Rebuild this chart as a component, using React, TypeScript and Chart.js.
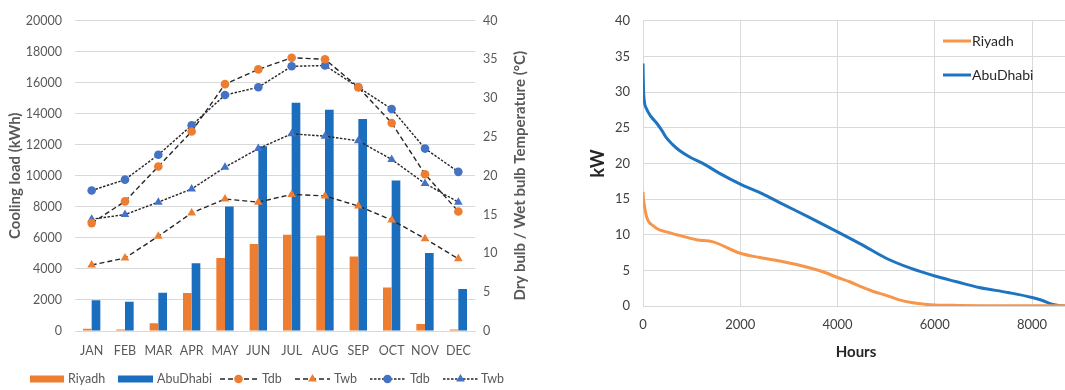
import React, { useEffect, useRef } from "react";
import { Chart, registerables } from "chart.js";
Chart.register(...registerables);

// ---------- Left chart data ----------
const months = ["JAN", "FEB", "MAR", "APR", "MAY", "JUN", "JUL", "AUG", "SEP", "OCT", "NOV", "DEC"];
const riyadhLoad = [150, 100, 500, 2450, 4700, 5600, 6200, 6150, 4800, 2800, 450, 100];
const abuDhabiLoad = [1980, 1880, 2470, 4370, 8020, 11900, 14700, 14250, 13650, 9700, 5030, 2700];
const riyadhTdb = [13.9, 16.7, 21.2, 25.7, 31.8, 33.7, 35.2, 35.0, 31.4, 26.8, 20.2, 15.4];
const riyadhTwb = [8.5, 9.4, 12.2, 15.2, 17.0, 16.6, 17.6, 17.4, 16.1, 14.3, 11.9, 9.3];
const abuDhabiTdb = [18.1, 19.5, 22.7, 26.5, 30.4, 31.4, 34.1, 34.2, 31.4, 28.6, 23.5, 20.5];
const abuDhabiTwb = [14.4, 15.0, 16.6, 18.3, 21.1, 23.5, 25.4, 25.1, 24.5, 22.1, 19.0, 16.6];

// ---------- Right chart data (load duration curves) ----------
const hourTicks = [0, 2000, 4000, 6000, 8000];
const abuHours = [0, 10, 30, 70, 150, 275, 400, 480, 600, 750, 960, 1230, 1575, 2000, 2470, 2810, 3400, 4000, 4500, 5000, 5500, 6000, 6450, 6910, 7500, 8000, 8200, 8430, 8660, 8760];
const abuKw = [34.0, 30.5, 28.6, 27.7, 26.7, 25.7, 24.5, 23.6, 22.7, 21.8, 20.9, 20.0, 18.6, 17.1, 15.7, 14.5, 12.5, 10.4, 8.6, 6.7, 5.3, 4.2, 3.4, 2.6, 1.9, 1.2, 0.8, 0.2, 0.0, 0.0];
const riyHours = [0, 10, 20, 40, 70, 120, 200, 300, 480, 750, 1100, 1440, 2000, 2400, 2810, 3400, 3700, 4000, 4250, 4520, 4750, 5000, 5250, 5550, 5800, 6000, 6500, 7000, 8000, 8760];
const riyKw = [16.0, 15.0, 14.5, 13.6, 12.6, 11.8, 11.3, 10.8, 10.4, 9.9, 9.3, 9.0, 7.4, 6.8, 6.3, 5.4, 4.8, 4.0, 3.4, 2.6, 2.0, 1.5, 0.9, 0.45, 0.25, 0.15, 0.08, 0.05, 0.03, 0.02];

const FONT = "Lato, 'Open Sans', sans-serif";
const ORANGE = "#ED7D31";
const BLUE_BAR = "#1B6EBD";
const BLUE_MK = "#4472C4";
const LINE_ORANGE = "#F7964A";
const LINE_BLUE = "#1F74C2";

function drawMarker(ctx: CanvasRenderingContext2D, style: string, x: number, y: number, color: string) {
  ctx.save();
  ctx.fillStyle = color;
  ctx.beginPath();
  if (style === "circle") {
    ctx.arc(x, y, 4.3, 0, Math.PI * 2);
  } else {
    const r = 5;
    ctx.moveTo(x, y - r);
    ctx.lineTo(x + r * Math.sin((2 * Math.PI) / 3), y - r * Math.cos((2 * Math.PI) / 3));
    ctx.lineTo(x + r * Math.sin((4 * Math.PI) / 3), y - r * Math.cos((4 * Math.PI) / 3));
    ctx.closePath();
  }
  ctx.fill();
  ctx.restore();
}

const leftDecor = {
  id: "leftDecor",
  afterDraw(chart: any) {
    const ctx: CanvasRenderingContext2D = chart.ctx;
    const area = chart.chartArea;
    ctx.save();
    ctx.translate(520, (area.top + area.bottom) / 2);
    ctx.rotate(-Math.PI / 2);
    ctx.font = `bold 15px ${FONT}`;
    ctx.fillStyle = "#595959";
    ctx.textAlign = "center";
    ctx.textBaseline = "middle";
    ctx.fillText("Dry bulb / Wet bulb Temperature (°C)", 0, 0);
    ctx.restore();

    const y = 379;
    ctx.save();
    ctx.font = `12.5px ${FONT}`;
    ctx.textBaseline = "middle";
    ctx.textAlign = "left";
    ctx.fillStyle = ORANGE;
    ctx.fillRect(30, y - 3.5, 34, 7);
    ctx.fillStyle = "#595959";
    ctx.fillText("Riyadh", 68, y);
    ctx.fillStyle = BLUE_BAR;
    ctx.fillRect(118, y - 3.5, 35, 7);
    ctx.fillStyle = "#595959";
    ctx.fillText("AbuDhabi", 157, y);
    const lineItem = (x0: number, x1: number, dash: number[], mk: string, col: string, label: string, tx: number) => {
      ctx.save();
      ctx.strokeStyle = "#262626";
      ctx.lineWidth = 1.4;
      ctx.setLineDash(dash);
      ctx.beginPath();
      ctx.moveTo(x0, y);
      ctx.lineTo(x1, y);
      ctx.stroke();
      ctx.restore();
      drawMarker(ctx, mk, (x0 + x1) / 2, y, col);
      ctx.fillStyle = "#595959";
      ctx.fillText(label, tx, y);
    };
    lineItem(220, 257, [5, 3], "circle", ORANGE, "Tdb", 262);
    lineItem(295, 330, [5, 3], "triangle", ORANGE, "Twb", 334);
    lineItem(370, 405, [2.5, 1.5], "circle", BLUE_MK, "Tdb", 410);
    lineItem(443, 478, [2.5, 1.5], "triangle", BLUE_MK, "Twb", 481);
    ctx.restore();
  },
};

const rightDecor = {
  id: "rightDecor",
  afterDraw(chart: any) {
    const ctx: CanvasRenderingContext2D = chart.ctx;
    ctx.save();
    ctx.font = `14px ${FONT}`;
    ctx.textBaseline = "middle";
    ctx.textAlign = "left";
    const items = [
      { y: 41, c: LINE_ORANGE, t: "Riyadh" },
      { y: 75, c: LINE_BLUE, t: "AbuDhabi" },
    ];
    for (const it of items) {
      ctx.strokeStyle = it.c;
      ctx.lineWidth = 3;
      ctx.beginPath();
      ctx.moveTo(943 - 580, it.y);
      ctx.lineTo(971 - 580, it.y);
      ctx.stroke();
      ctx.fillStyle = "#262626";
      ctx.fillText(it.t, 972 - 580, it.y);
    }
    ctx.restore();
  },
};

const plain = (v: any) => String(v);

export default function App() {
  const leftRef = useRef<HTMLCanvasElement | null>(null);
  const rightRef = useRef<HTMLCanvasElement | null>(null);

  useEffect(() => {
    const lineDs = (label: string, data: number[], color: string, style: string, dash: number[]) => ({
      type: "line" as const,
      label,
      data,
      yAxisID: "y1",
      borderColor: "#262626",
      borderWidth: 1.4,
      borderDash: dash,
      pointStyle: style,
      pointRadius: style === "circle" ? 4.3 : 5,
      pointBackgroundColor: color,
      pointBorderColor: color,
      pointBorderWidth: 0,
      fill: false,
      tension: 0,
      order: 1,
    });

    const left = new Chart(leftRef.current!, {
      type: "bar",
      data: {
        labels: months,
        datasets: [
          { type: "bar", label: "Riyadh", data: riyadhLoad, backgroundColor: ORANGE, yAxisID: "y", order: 2, barPercentage: 1, categoryPercentage: 0.52 },
          { type: "bar", label: "AbuDhabi", data: abuDhabiLoad, backgroundColor: BLUE_BAR, yAxisID: "y", order: 2, barPercentage: 1, categoryPercentage: 0.52 },
          lineDs("Tdb", riyadhTdb, ORANGE, "circle", [5, 3]),
          lineDs("Twb", riyadhTwb, ORANGE, "triangle", [5, 3]),
          lineDs("Tdb", abuDhabiTdb, BLUE_MK, "circle", [2.5, 1.5]),
          lineDs("Twb", abuDhabiTwb, BLUE_MK, "triangle", [2.5, 1.5]),
        ] as any,
      },
      options: {
        animation: false,
        responsive: false,
        layout: { padding: { top: 13, left: 0, right: 0, bottom: 0 } },
        plugins: { legend: { display: false }, tooltip: { enabled: false } },
        scales: {
          x: {
            grid: { display: false },
            border: { color: "#D9D9D9" },
            ticks: { color: "#595959", font: { family: FONT, size: 12.5 }, padding: 4, maxRotation: 0 },
            afterFit: (s: any) => { s.height = 59; },
          },
          y: {
            position: "left",
            min: 0,
            max: 20000,
            ticks: { stepSize: 2000, color: "#595959", font: { family: FONT, size: 12.5 }, padding: 13, callback: plain },
            grid: { color: "#D9D9D9", drawTicks: false },
            border: { display: false },
            title: { display: true, text: "Cooling load (kWh)", color: "#595959", font: { family: FONT, size: 15, weight: "bold" }, padding: { top: 6 } },
            afterFit: (s: any) => { s.width = 75; },
          },
          y1: {
            position: "right",
            min: 0,
            max: 40,
            ticks: { stepSize: 5, color: "#595959", font: { family: FONT, size: 12.5 }, padding: 8, callback: plain },
            grid: { drawOnChartArea: false, drawTicks: false },
            border: { display: false },
            afterFit: (s: any) => { s.width = 65; },
          },
        },
      } as any,
      plugins: [leftDecor],
    });

    const toPts = (xs: number[], ys: number[]) => xs.map((x, i) => ({ x, y: ys[i] }));
    const right = new Chart(rightRef.current!, {
      type: "line",
      data: {
        datasets: [
          { label: "Riyadh", data: toPts(riyHours, riyKw), borderColor: LINE_ORANGE, borderWidth: 3, pointRadius: 0, cubicInterpolationMode: "monotone", fill: false },
          { label: "AbuDhabi", data: toPts(abuHours, abuKw), borderColor: LINE_BLUE, borderWidth: 3, pointRadius: 0, cubicInterpolationMode: "monotone", fill: false },
        ] as any,
      },
      options: {
        animation: false,
        responsive: false,
        layout: { padding: { top: 13, left: 0, right: 1, bottom: 0 } },
        plugins: { legend: { display: false }, tooltip: { enabled: false } },
        scales: {
          x: {
            type: "linear",
            min: 0,
            max: 8760,
            afterBuildTicks: (s: any) => { s.ticks = hourTicks.map((v) => ({ value: v })); },
            ticks: { color: "#404040", font: { family: FONT, size: 13 }, padding: 11, callback: plain, autoSkip: false },
            grid: { color: "#D9D9D9", drawTicks: false },
            border: { color: "#D9D9D9" },
            title: { display: true, text: "Hours", color: "#262626", font: { family: FONT, size: 15, weight: "bold" }, padding: { bottom: 29 } },
            afterFit: (s: any) => { s.height = 84; },
          },
          y: {
            min: 0,
            max: 40,
            ticks: { stepSize: 5, color: "#404040", font: { family: FONT, size: 13 }, padding: 13, callback: plain },
            grid: { color: "#D9D9D9", drawTicks: false },
            border: { color: "#D9D9D9" },
            title: { display: true, text: "kW", color: "#262626", font: { family: FONT, size: 18, weight: "bold" }, padding: { top: 7 } },
            afterFit: (s: any) => { s.width = 63; },
          },
        },
      } as any,
      plugins: [rightDecor],
    });

    return () => {
      left.destroy();
      right.destroy();
    };
  }, []);

  return (
    <div style={{ position: "fixed", left: 0, top: 0, width: 1065, height: 390, overflow: "hidden", background: "#fff" }}>
      <canvas ref={leftRef} width={540} height={390} style={{ position: "absolute", left: 0, top: 0, width: 540, height: 390 }} />
      <canvas ref={rightRef} width={490} height={390} style={{ position: "absolute", left: 580, top: 0, width: 490, height: 390 }} />
    </div>
  );
}
